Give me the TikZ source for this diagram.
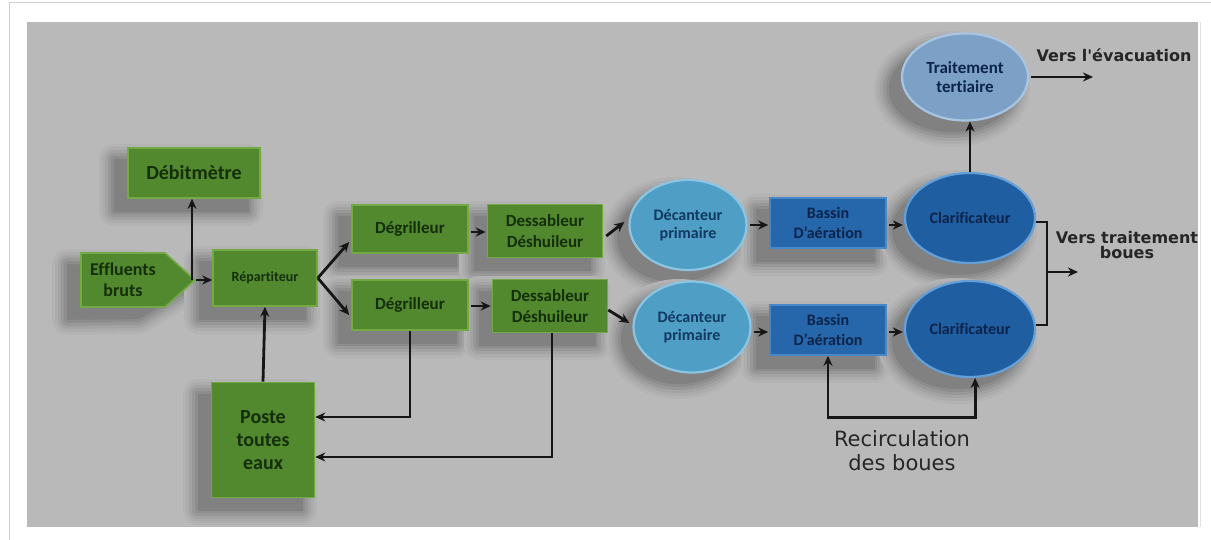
\documentclass[tikz,border=0pt]{standalone}
\usepackage{fontspec}
\setmainfont{Carlito}[Ligatures=NoCommon]
\newfontfamily\dvsans{DejaVu Sans}
\usetikzlibrary{arrows.meta,shapes.geometric,shapes.symbols,calc}
\pgfdeclarelayer{backl}
\pgfdeclarelayer{shadl}
\pgfsetlayers{backl,shadl,main}
\definecolor{bggray}{RGB}{185,185,185}
\definecolor{grn}{RGB}{82,136,46}
\definecolor{grnedge}{RGB}{116,170,70}
\definecolor{grntxt}{RGB}{20,46,10}
\definecolor{lblue}{RGB}{78,158,198}
\definecolor{lbedge}{RGB}{140,196,226}
\definecolor{dblue}{RGB}{38,102,170}
\definecolor{dbedge}{RGB}{72,136,200}
\definecolor{cblue}{RGB}{32,94,162}
\definecolor{cbedge}{RGB}{100,160,215}
\definecolor{terc}{RGB}{124,160,198}
\definecolor{teredge}{RGB}{168,198,226}
\definecolor{navytxt}{RGB}{12,36,74}
\definecolor{dectxt}{RGB}{18,56,100}
\definecolor{linec}{RGB}{22,22,22}
\definecolor{labtxt}{RGB}{38,38,38}
% soft shadow helpers
\newcommand\shadlayers[1]{%
  \foreach \w/\p in {30/97,24/93,18/88,12/82,6/76,0.1/70}{%
    \draw[draw=bggray!\p!black, fill=bggray!\p!black, line width=\w pt, line join=round,
          transform canvas={xshift=-13pt,yshift=-12pt}] #1;}}
\newcommand\rectshade[1]{\shadlayers{(#1.north west) rectangle (#1.south east)}}
\newcommand\ellshade[3]{\shadlayers{(#1.center) ellipse [x radius=#2, y radius=#3]}}
\begin{document}
\begin{tikzpicture}[x=1pt,y=-1pt,
  gbox/.style={draw=grnedge, line width=1.6pt, fill=grn, text=grntxt, align=center, inner sep=0pt},
  lell/.style={ellipse, draw=lbedge, line width=2.2pt, fill=lblue, text=dectxt, align=center, inner sep=0pt,
     font=\bfseries\fontsize{16}{18}\selectfont},
  bbox/.style={draw=dbedge, line width=1.6pt, fill=dblue, text=navytxt, align=center, inner sep=0pt,
     font=\bfseries\fontsize{16}{20}\selectfont, minimum width=116pt, minimum height=50pt},
  cell/.style={ellipse, draw=cbedge, line width=2.2pt, fill=cblue, text=navytxt, align=center, inner sep=0pt,
     font=\bfseries\fontsize{16}{18}\selectfont, minimum width=130pt},
  tell/.style={ellipse, draw=teredge, line width=2.2pt, fill=terc, text=navytxt, align=center, inner sep=0pt,
     font=\bfseries\fontsize{17}{19}\selectfont},
  conn/.style={draw=linec, line width=2.8pt},
  arr/.style={conn, -{Stealth[length=10pt,width=9pt]}},
  biarr/.style={conn, {Stealth[length=10pt,width=9pt]}-{Stealth[length=10pt,width=9pt]}},
  lab/.style={text=labtxt, align=center, inner sep=0pt}
]
\useasboundingbox (0,0) rectangle (1211,540);
\begin{pgfonlayer}{backl}
\fill[white] (0,0) rectangle (1211,540);
\draw[black!18, line width=1pt] (9,540) -- (9,3) -- (1211,3);
\fill[bggray] (27,22) rectangle (1198,527);
\draw[black!12, line width=0.8pt] (1200,22) -- (1200,527);
\end{pgfonlayer}

% green nodes
\node[gbox, minimum width=132pt, minimum height=50pt, font=\bfseries\fontsize{20}{22}\selectfont] (deb) at (194,173) {Débitmètre};
\node[gbox, signal, signal to=east, signal from=nowhere, signal pointer angle=84,
      minimum width=114pt, minimum height=54pt, font=\bfseries\fontsize{18}{21}\selectfont] (eff) at (123,280) {Effluents\\bruts};
\node[gbox, minimum width=104pt, minimum height=56pt, font=\bfseries\fontsize{14}{16}\selectfont] (rep) at (265,278) {Répartiteur};
\node[gbox, minimum width=103pt, minimum height=115pt, font=\bfseries\fontsize{20}{23}\selectfont] (poste) at (263,440) {Poste\\toutes\\eaux};
\node[gbox, minimum width=116pt, minimum height=48pt, font=\bfseries\fontsize{17}{20}\selectfont] (dg1) at (410,229) {Dégrilleur};
\node[gbox, minimum width=116pt, minimum height=50pt, font=\bfseries\fontsize{17}{20}\selectfont] (dg2) at (410,305) {Dégrilleur};
\node[gbox, minimum width=115pt, minimum height=53pt, font=\bfseries\fontsize{17}{21}\selectfont] (ds1) at (545,231) {Dessableur\\Déshuileur};
\node[gbox, minimum width=115pt, minimum height=53pt, font=\bfseries\fontsize{17}{21}\selectfont] (ds2) at (550,306) {Dessableur\\Déshuileur};

% blue nodes
\node[lell, minimum width=117pt, minimum height=90pt] (dec1) at (688,225) {Décanteur\\primaire};
\node[lell, minimum width=117pt, minimum height=91pt] (dec2) at (692,327) {Décanteur\\primaire};
\node[bbox] (bas1) at (828,223) {Bassin\\D'aération};
\node[bbox] (bas2) at (828,330) {Bassin\\D'aération};
\node[cell, minimum height=90pt] (cl1) at (970,218) {Clarificateur};
\node[cell, minimum height=96pt] (cl2) at (970,329) {Clarificateur};
\node[tell, minimum width=126pt, minimum height=87pt] (ter) at (965,77) {Traitement\\tertiaire};

% shadows
\begin{pgfonlayer}{shadl}
\rectshade{deb}
\shadlayers{(eff.north west) -- (152,253) -- (eff.east) -- (152,307) -- (eff.south west) -- cycle}
\rectshade{rep}
\rectshade{poste}
\rectshade{dg1}
\rectshade{dg2}
\rectshade{ds1}
\rectshade{ds2}
\ellshade{dec1}{58}{45}
\ellshade{dec2}{58}{45}
\rectshade{bas1}
\rectshade{bas2}
\ellshade{cl1}{65}{45}
\ellshade{cl2}{65}{48}
\ellshade{ter}{63}{43}
\end{pgfonlayer}

% labels
\node[lab, font=\dvsans\bfseries\fontsize{16}{18}\selectfont] (evl) at (1114,55) {Vers l'évacuation};
\node[lab, font=\dvsans\bfseries\fontsize{16}{15}\selectfont] (vtl) at (1127,245) {Vers traitement\\boues};
\node[lab, font=\dvsans\fontsize{21}{24}\selectfont] (recl) at (902,451) {Recirculation\\des boues};

% free ends and helper points
\coordinate (j) at (192,280);
\coordinate (evac) at (1093,77);
\coordinate (bk) at (1047,272);
\coordinate (vtb) at (1078,272);
\coordinate (b1o) at ($(bas1.east)+(2,2)$);
\coordinate (b2o) at ($(bas2.east)+(2,2)$);
\coordinate (c1i) at ($(cl1.west)+(-1,7)$);
\coordinate (c2i) at ($(cl2.west)+(-1,3)$);

% connectors
\draw[arr] (eff.east) -- (eff.east -| rep.west);
\draw[arr] (j) -- (j |- deb.south);
\draw[arr] (poste.north) -- (rep.south);
\draw[arr] (rep.east) -- ($(dg1.west)+(-2,13)$);
\draw[arr] (rep.east) -- ($(dg2.west)+(-2,10)$);
\draw[arr, shorten <=2pt, shorten >=1pt] ($(dg1.east)+(0,3)$) -- ($(ds1.west)+(0,1)$);
\draw[arr, shorten <=2pt, shorten >=1pt] ($(dg2.east)+(0,1)$) -- (ds2.west);
\draw[arr] ($(ds1.east)+(3,5)$) -- ($(dec1.west)+(-4,-3)$);
\draw[arr] ($(ds2.east)+(0,4)$) -- ($(dec2.west)+(-3,-4)$);
\draw[arr, shorten <=2pt, shorten >=1pt] (dec1.east) -- (dec1.east -| bas1.west);
\draw[arr, shorten <=2pt, shorten >=1pt] ($(dec2.east)+(0,5)$) -- ($(bas2.west)+(0,2)$);
\draw[arr] (b1o) -- (c1i);
\draw[arr] (b2o) -- (c2i);
\draw[arr] (cl1.north) -- (cl1.north |- ter.south);
\draw[arr, shorten <=2pt] (ter.east) -- (evac);
\draw[conn] ($(cl1.east)+(0,4)$) -| (bk) |- ($(cl2.east)+(0,-4)$);
\draw[arr] (bk) -- (vtb);
\draw[arr] (dg2.south) |- ($(poste.east)+(0,-23)$);
\draw[arr] ($(ds2.south)+(2,0)$) |- ($(poste.east)+(0,17)$);
\draw[biarr] (bas2.south) -- ++(0,62) -| (cl2.-84);
\end{tikzpicture}
\end{document}
